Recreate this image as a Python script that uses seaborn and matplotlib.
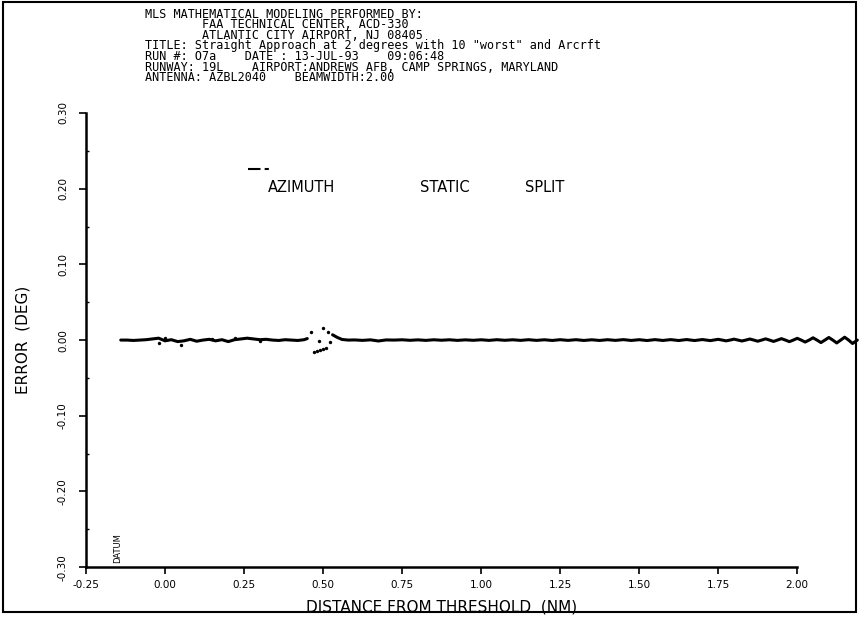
import matplotlib
matplotlib.use('Agg')
import matplotlib.pyplot as plt
import numpy as np
import pandas as pd
import seaborn as sns
from matplotlib.lines import Line2D
from matplotlib.patches import Rectangle
from matplotlib.ticker import MultipleLocator, FixedLocator

sns.set_style('ticks')
plt.rcParams['font.family'] = ['DejaVu Sans']
plt.rcParams['text.color'] = 'black'
plt.rcParams['axes.labelcolor'] = 'black'
plt.rcParams['xtick.color'] = 'black'
plt.rcParams['ytick.color'] = 'black'

# header lines printed above the plot
header_lines = [
    'MLS MATHEMATICAL MODELING PERFORMED BY:',
    '        FAA TECHNICAL CENTER, ACD-330',
    '        ATLANTIC CITY AIRPORT, NJ 08405',
    'TITLE: Straight Approach at 2 degrees with 10 "worst" and Arcrft',
    'RUN #: O7a    DATE : 13-JUL-93    09:06:48',
    'RUNWAY: 19L    AIRPORT:ANDREWS AFB, CAMP SPRINGS, MARYLAND',
    'ANTENNA: AZBL2040    BEAMWIDTH:2.00',
]

x_ticks = [-0.25, 0.00, 0.25, 0.50, 0.75, 1.00, 1.25, 1.50, 1.75, 2.00]
y_ticks = [-0.30, -0.20, -0.10, 0.00, 0.10, 0.20, 0.30]

# error trace before the split region (NM, deg)
dist_a = [-0.14, -0.12, -0.10, -0.08, -0.06, -0.04, -0.02, 0.00, 0.02, 0.04,
          0.06, 0.08, 0.10, 0.12, 0.14, 0.16, 0.18, 0.20, 0.22, 0.24,
          0.26, 0.28, 0.30, 0.32, 0.34, 0.36, 0.38, 0.40, 0.42, 0.44, 0.45]
err_a = [0.0000, 0.0000, -0.0005, 0.0000, 0.0005, 0.0015, 0.0025, -0.0010, 0.0005, -0.0020,
         -0.0010, 0.0010, -0.0015, 0.0000, 0.0010, -0.0010, 0.0005, -0.0020, 0.0005, 0.0015,
         0.0025, 0.0015, 0.0005, 0.0010, 0.0000, -0.0005, 0.0005, 0.0000, -0.0005, 0.0005, 0.0020]

# error trace after the split region, runs past the 2.00 NM tick
dist_b = [0.53, 0.545, 0.56, 0.58, 0.60, 0.625, 0.65, 0.675, 0.70, 0.725,
          0.75, 0.775, 0.80, 0.825, 0.85, 0.875, 0.90, 0.925, 0.95, 0.975,
          1.00, 1.025, 1.05, 1.075, 1.10, 1.125, 1.15, 1.175, 1.20, 1.225,
          1.25, 1.275, 1.30, 1.325, 1.35, 1.375, 1.40, 1.425, 1.45, 1.475,
          1.50, 1.525, 1.55, 1.575, 1.60, 1.625, 1.65, 1.675, 1.70, 1.725,
          1.75, 1.7625, 1.775, 1.7875, 1.80, 1.8125, 1.825, 1.8375, 1.85, 1.8625,
          1.875, 1.8875, 1.90, 1.9125, 1.925, 1.9375, 1.95, 1.9625, 1.975, 1.9875,
          2.00, 2.0125, 2.025, 2.0375, 2.05, 2.0625, 2.075, 2.0875, 2.10, 2.1125,
          2.125, 2.1375, 2.15, 2.1625, 2.175, 2.19]
err_b = [0.0070, 0.0035, 0.0008, 0.0000, 0.0002, -0.0004, 0.0003, -0.0012, 0.0002, 0.0000,
         0.0004, -0.0003, 0.0003, -0.0004, 0.0004, -0.0002, 0.0004, -0.0004, 0.0003, -0.0003,
         0.0004, -0.0004, 0.0005, -0.0003, 0.0004, -0.0004, 0.0005, -0.0004, 0.0004, -0.0005,
         0.0005, -0.0004, 0.0005, -0.0005, 0.0004, -0.0005, 0.0005, -0.0004, 0.0006, -0.0005,
         0.0005, -0.0006, 0.0006, -0.0005, 0.0006, -0.0006, 0.0007, -0.0006, 0.0007, -0.0007,
         0.0010, 0.0000, -0.0010, 0.0000, 0.0012, 0.0000, -0.0012, 0.0000, 0.0014, 0.0000,
         -0.0015, 0.0000, 0.0016, 0.0000, -0.0018, 0.0000, 0.0019, 0.0000, -0.0021, 0.0000,
         0.0023, 0.0000, -0.0026, 0.0000, 0.0030, 0.0000, -0.0033, 0.0000, 0.0034, 0.0000,
         -0.0038, 0.0000, 0.0038, 0.0000, -0.0045, 0.0000]

# loose samples around the split
dist_pts = [-0.02, 0.00, 0.05, 0.15, 0.22, 0.30, 0.462, 0.50, 0.516, 0.487,
            0.522, 0.470, 0.480, 0.490, 0.500, 0.510]
err_pts = [-0.004, 0.003, -0.007, 0.002, 0.003, -0.001, 0.011, 0.016, 0.011, -0.001,
           -0.003, -0.016, -0.014, -0.013, -0.012, -0.011]

df_a = pd.DataFrame({'dist': dist_a, 'err': err_a})
df_b = pd.DataFrame({'dist': dist_b, 'err': err_b})
df_pts = pd.DataFrame({'dist': dist_pts, 'err': err_pts})

fig = plt.figure(figsize=(8.59, 6.33), dpi=100)
ax = fig.add_axes([0.1001, 0.104, 0.828, 0.7175])

for d in (df_a, df_b):
    sns.lineplot(data=d, x='dist', y='err', ax=ax, color='black', linewidth=2.2,
                 sort=False, estimator=None, clip_on=False)
sns.scatterplot(data=df_pts, x='dist', y='err', ax=ax, color='black', s=6,
                linewidth=0, clip_on=False)

ax.set_xlim(-0.25, 2.00)
ax.set_ylim(-0.30, 0.30)
ax.xaxis.set_major_locator(FixedLocator(x_ticks))
ax.yaxis.set_major_locator(FixedLocator(y_ticks))
ax.yaxis.set_minor_locator(MultipleLocator(0.05))
ax.set_xticklabels([f'{v:.2f}' for v in x_ticks], fontsize=7.5)
ax.set_yticklabels([f'{v:.2f}' for v in y_ticks], fontsize=7.5, rotation=90, va='center')
ax.tick_params(axis='x', which='major', length=5, width=1.2, pad=4)
ax.tick_params(axis='y', which='major', length=5, width=1.2, pad=8)
ax.tick_params(axis='y', which='minor', length=2, width=1, direction='in')
sns.despine(ax=ax)
for side in ('left', 'bottom'):
    ax.spines[side].set_linewidth(1.8)
    ax.spines[side].set_color('black')

ax.set_xlabel('DISTANCE FROM THRESHOLD  (NM)', fontsize=11, labelpad=7)
ax.set_ylabel('ERROR  (DEG)', fontsize=11, labelpad=20)

# run type caption inside the plot
ax.text(0.256, 0.835, 'AZIMUTH', transform=ax.transAxes, fontsize=10.5, va='center')
ax.text(0.470, 0.835, 'STATIC', transform=ax.transAxes, fontsize=10.5, va='center')
ax.text(0.617, 0.835, 'SPLIT', transform=ax.transAxes, fontsize=10.5, va='center')
ax.text(-0.15, -0.275, 'DATUM', fontsize=6, rotation=90, ha='center', va='center')

# legend mark for the trace
ax.legend(handles=[Line2D([], [], color='black', linewidth=1.5, linestyle=(0, (6, 2, 2, 4)))],
          labels=[''], loc=(0.228, 0.86), frameon=False, handlelength=2.0,
          handletextpad=0, borderpad=0)

# header block as one text, lines packed tight like the original printout
fig.text(0.169, 0.988, '\n'.join(header_lines), fontsize=8.5, family='DejaVu Sans Mono',
         va='top', ha='left', linespacing=0.76)

fig.patches.append(Rectangle((0.003, 0.033), 0.994, 0.964, transform=fig.transFigure,
                             fill=False, edgecolor='black', linewidth=1.5))

fig.savefig('out.png', dpi=100)
